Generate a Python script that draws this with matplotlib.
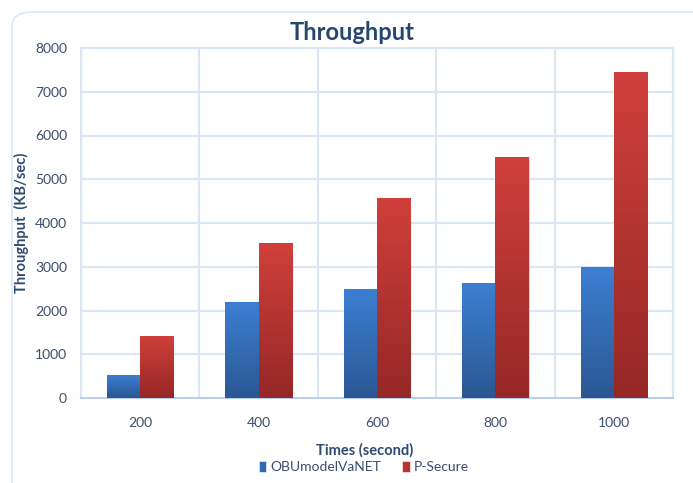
import numpy as np
import matplotlib
matplotlib.use("Agg")
import matplotlib.pyplot as plt
from matplotlib.colors import LinearSegmentedColormap
from matplotlib.patches import FancyBboxPatch

times = ["200", "400", "600", "800", "1000"]
obu = [530, 2200, 2500, 2640, 3000]
psecure = [1420, 3540, 4580, 5510, 7450]

plt.rcParams["font.family"] = ["Lato", "DejaVu Sans"]
txt = "#3a4e6e"
grid_c = "#dbe6f4"

fig = plt.figure(figsize=(6.93, 4.83), dpi=100)
ax = fig.add_axes([81/693, 1-398/483, (673-81)/693, (398-48)/483])

# rounded outer border of the chart area
fig.patches.append(FancyBboxPatch((12/693, -0.1), 1.2, 1-12/483+0.1,
                                  boxstyle="round,pad=0,rounding_size=0.03",
                                  transform=fig.transFigure, fill=False,
                                  ec="#dce8f6", lw=1.2))

x = np.arange(len(times))
w = 0.28
blue_cm = LinearSegmentedColormap.from_list("b", ["#2b5894", "#3c7fd2"])
red_cm = LinearSegmentedColormap.from_list("r", ["#952826", "#d03f3b"])

grad = np.linspace(0, 1, 100).reshape(-1, 1)
handles = []
for vals, off, cm, lab, mid in [(obu, -w/2, blue_cm, "OBUmodelVaNET", "#3168b2"),
                                (psecure, w/2, red_cm, "P-Secure", "#b83431")]:
    bars = ax.bar(x + off, vals, w, color=mid, label=lab, zorder=3,
                  edgecolor="#ffffff", linewidth=0.4)
    handles.append(bars)
    for b in bars:
        bx, by = b.get_x(), b.get_height()
        im = ax.imshow(grad, cmap=cm, origin="lower", aspect="auto",
                       extent=[bx, bx + b.get_width(), 0, by], zorder=3.5)
        im.set_clip_path(b)

ax.set_xlim(-0.5, len(times) - 0.5)
ax.set_ylim(0, 8000)
ax.set_yticks(range(0, 8001, 1000))
ax.set_xticks(x)
ax.set_xticklabels(times)
ax.set_xticks(np.arange(-0.5, len(times), 1), minor=True)
ax.grid(axis="y", color=grid_c, lw=1.5, zorder=0)
ax.grid(axis="x", which="minor", color=grid_c, lw=1.5, zorder=0)
ax.tick_params(which="both", length=0, colors=txt, labelsize=10)
ax.tick_params(axis="x", pad=14)
ax.tick_params(axis="y", pad=10)
for s in ax.spines.values():
    s.set_color(grid_c)
    s.set_linewidth(1.5)
ax.spines["bottom"].set_color("#b9cfea")

fig.text(352/693, 1-33/483, "Throughput", fontsize=17, fontweight="bold",
         color="#24466f", ha="center", va="center")
fig.text(365/693, 1-450/483, "Times (second)", fontsize=10.5, fontweight="bold",
         color="#2c4a72", ha="center", va="center")
ax.set_ylabel("Throughput  (KB/sec)", fontsize=10.5, fontweight="bold", color="#2c4a72", labelpad=4)

fig.legend(handles=handles, loc="center", bbox_to_anchor=(364/693, 1-467/483), ncol=2,
           frameon=False, fontsize=10, labelcolor=txt, handlelength=0.55, handleheight=0.8,
           handletextpad=0.3, columnspacing=1.5)

plt.savefig("out.png", dpi=100)
